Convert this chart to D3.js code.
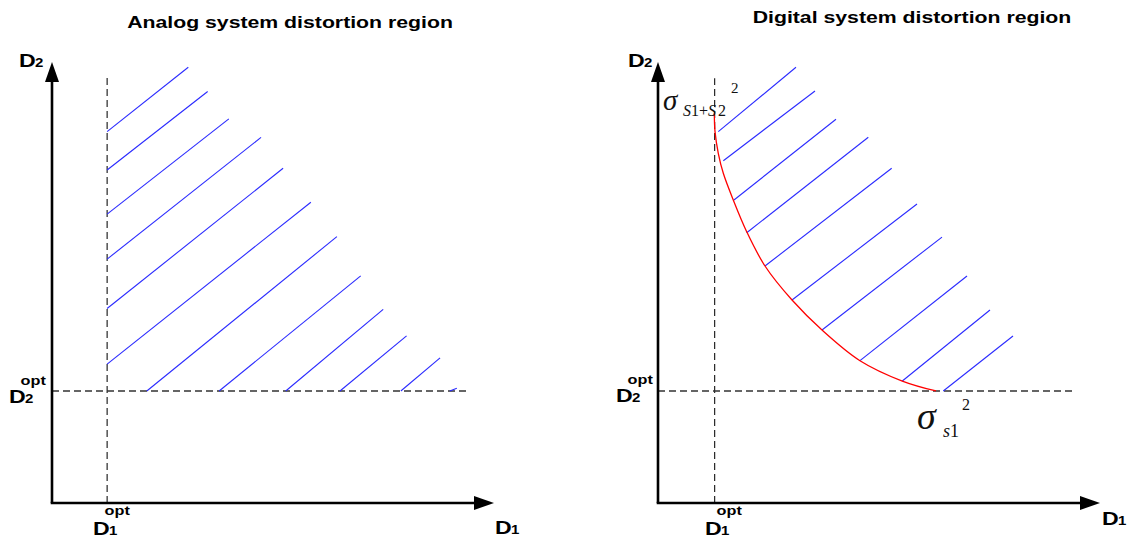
<!DOCTYPE html>
<html>
<head>
<meta charset="utf-8">
<script src="https://cdn.jsdelivr.net/npm/d3@7"></script>
<style>
  html, body { margin: 0; padding: 0; background: #fff; }
  svg { display: block; }
  .title { font-family: "Liberation Sans", Arial, sans-serif; font-weight: bold; font-size: 17px; }
  .dlab { font-family: "Liberation Sans", Arial, sans-serif; font-weight: bold; }
  .greek { font-family: "Liberation Serif", "Times New Roman", serif; }
</style>
</head>
<body>
<svg id="chart" width="1131" height="538"></svg>
<script>
// ---- data (distortion units, axes run 0..100) ----
const panelTitles = ["Analog system distortion region", "Digital system distortion region"];
const d1OptValues = [12.5, 12.85];        // D1 optimum per panel
const d2OptValues = [25.4, 25.4];         // D2 optimum per panel
const dashTop = [96.6, 96.3];             // upper end of the D1 optimum guide
const dashRight = [94.1, 94.2];           // right end of the D2 optimum guide

// analog region hatching: start on the optimum guides, end on the outer boundary
const analogHatchX1 = [12.5, 12.5, 12.5, 12.5, 12.5, 12.5, 21.5, 37.9, 53.0, 65.3, 79.1, 90.2];
const analogHatchY1 = [84.2, 75.5, 65.5, 55.3, 44.1, 31.5, 25.4, 25.4, 25.4, 25.4, 25.4, 25.4];
const analogHatchX2 = [30.9, 35.3, 40.1, 47.4, 52.4, 58.7, 64.6, 70.0, 75.1, 80.4, 88.0, 91.8];
const analogHatchY2 = [98.8, 93.3, 87.1, 82.9, 75.9, 68.2, 60.4, 51.5, 43.9, 37.9, 32.9, 26.0];

// digital region boundary (rate-distortion curve) from sigma_{S1+S2}^2 down to sigma_{s1}^2
const boundaryD1 = [12.77, 12.93, 13.67, 14.81, 17.07, 20.11, 24.26, 30.39, 37.19, 45.8, 55.4, 63.04];
const boundaryD2 = [88.37, 84.2, 79.3, 74.76, 68.71, 61.52, 53.74, 46.03, 39.23, 32.27, 27.66, 25.4];

// digital region hatching: start on the boundary curve
const digitalHatchX1 = [13.67, 14.81, 17.23, 20.11, 24.26, 30.39, 37.19, 45.8, 55.4, 64.69];
const digitalHatchY1 = [84.2, 77.62, 68.71, 61.29, 53.74, 46.03, 39.23, 32.27, 27.66, 25.4];
const digitalHatchX2 = [31.29, 35.6, 40.36, 47.69, 52.99, 58.73, 64.4, 70.07, 75.28, 80.5];
const digitalHatchY2 = [98.8, 93.42, 87.01, 82.93, 75.9, 67.8, 60.3, 51.47, 43.76, 37.87];

// ---- layout ----
const svg = d3.select("#chart");
const side = 441;
const x = d3.scaleLinear().domain([0, 100]).range([0, side]);
const y = d3.scaleLinear().domain([0, 100]).range([side, 0]);
const origins = [[52, 62], [658, 62]];
const stretch = 1.25;   // the lettering in this figure is set wide

const hatchSets = [
  d3.range(analogHatchX1.length).map(i => ({x1: analogHatchX1[i], y1: analogHatchY1[i], x2: analogHatchX2[i], y2: analogHatchY2[i]})),
  d3.range(digitalHatchX1.length).map(i => ({x1: digitalHatchX1[i], y1: digitalHatchY1[i], x2: digitalHatchX2[i], y2: digitalHatchY2[i]}))
];

// titles
[[290, 28], [912, 23]].forEach((pos, i) => {
  svg.append("text").attr("class", "title")
    .attr("transform", `translate(${pos[0]},${pos[1]}) scale(${stretch},1)`)
    .attr("text-anchor", "middle").text(panelTitles[i]);
});

origins.forEach((o, p) => {
  const g = svg.append("g").attr("transform", `translate(${o[0]},${o[1]})`);

  // dashed optimum guides
  g.append("line")
    .attr("x1", x(d1OptValues[p])).attr("x2", x(d1OptValues[p]))
    .attr("y1", y(0)).attr("y2", y(dashTop[p]))
    .attr("stroke", "#111").attr("stroke-width", 1.1).attr("stroke-dasharray", "7,4");
  g.append("line")
    .attr("x1", x(0)).attr("x2", x(dashRight[p]))
    .attr("y1", y(d2OptValues[p])).attr("y2", y(d2OptValues[p]))
    .attr("stroke", "#333").attr("stroke-width", 1.3).attr("stroke-dasharray", "7,4");

  // hatching
  g.selectAll("line.hatch").data(hatchSets[p]).join("line")
    .attr("class", "hatch")
    .attr("x1", d => x(d.x1)).attr("y1", d => y(d.y1))
    .attr("x2", d => x(d.x2)).attr("y2", d => y(d.y2))
    .attr("stroke", "#2a2aff").attr("stroke-width", 1.1);

  // boundary curve for the digital panel
  if (p === 1) {
    const pts = boundaryD1.map((v, i) => [v, boundaryD2[i]]);
    g.append("path")
      .attr("d", d3.line().x(d => x(d[0])).y(d => y(d[1])).curve(d3.curveCatmullRom.alpha(0.5))(pts))
      .attr("fill", "none").attr("stroke", "#ff0000").attr("stroke-width", 1.3);
  }

  // axes with arrowheads
  g.append("line").attr("x1", x(0)).attr("y1", y(0)).attr("x2", x(0)).attr("y2", y(96))
    .attr("stroke", "#000").attr("stroke-width", 2.6);
  g.append("line").attr("x1", x(0) - 1.3).attr("y1", y(0)).attr("x2", x(96)).attr("y2", y(0))
    .attr("stroke", "#000").attr("stroke-width", 2.6);
  g.append("path")
    .attr("d", `M${x(0)},${y(100)} L${x(0) - 7},${y(100) + 20} L${x(0) + 7},${y(100) + 20} Z`)
    .attr("fill", "#000");
  g.append("path")
    .attr("d", `M${x(100) + 1},${y(0)} L${x(100) - 19},${y(0) - 7} L${x(100) - 19},${y(0) + 7} Z`)
    .attr("fill", "#000");
});

// D labels: main glyph with a subscript index and optional "opt" superscript
function dLabel(x0, base, sub, sup, supDy) {
  const t = svg.append("text").attr("class", "dlab")
    .attr("transform", `translate(${x0},${base}) scale(${stretch},1)`);
  t.append("tspan").attr("x", 0).attr("y", 0).attr("font-size", 18.5).text("D");
  t.append("tspan").attr("x", 12.8).attr("y", 0).attr("font-size", 12).text(sub);
  if (sup) {
    t.append("tspan").attr("x", 9.3).attr("y", supDy).attr("font-size", 13).text(sup);
  }
}
dLabel(19, 67, "2");
dLabel(9, 403, "2", "opt", -18);
dLabel(93, 535, "1", "opt", -20);
dLabel(495, 534, "1");
dLabel(628, 67, "2");
dLabel(616, 402, "2", "opt", -18);
dLabel(705, 535, "1", "opt", -20);
dLabel(1102, 525, "1");

// variance labels at the ends of the boundary curve
function sigmaLabel(x0, base, size, sub, subDx, subDy, subSize, supDx, supDy, supSize) {
  const t = svg.append("text").attr("class", "greek").attr("fill", "#111");
  t.append("tspan").attr("x", x0).attr("y", base).attr("font-size", size).attr("font-style", "italic").text("σ");
  const s = t.append("tspan").attr("x", x0 + subDx).attr("y", base + subDy).attr("font-size", subSize);
  sub.forEach(part => {
    s.append("tspan").attr("font-style", part.italic ? "italic" : "normal")
      .attr("dx", part.gap || 0).text(part.text);
  });
  t.append("tspan").attr("x", x0 + supDx).attr("y", base + supDy).attr("font-size", supSize).text("2");
}
sigmaLabel(663, 110, 29,
  [{text: "S", italic: true}, {text: "1+", italic: false}, {text: "S", italic: true}, {text: "2", italic: false, gap: 2}],
  20, 6, 16, 68, -17, 15);
sigmaLabel(917, 429, 38,
  [{text: "s", italic: true}, {text: "1", italic: false}],
  26, 8, 18, 45, -19, 16);
</script>
</body>
</html>
